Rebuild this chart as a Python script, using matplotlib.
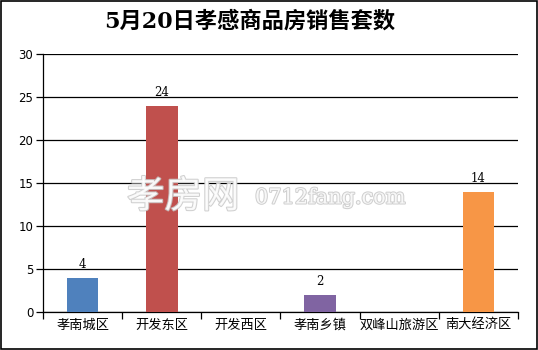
import matplotlib
matplotlib.use("Agg")
import matplotlib.pyplot as plt
import matplotlib.patheffects as pe
from matplotlib.patches import Rectangle

categories = ["孝南城区", "开发东区", "开发西区", "孝南乡镇", "双峰山旅游区", "南大经济区"]
values = [4, 24, 0, 2, 0, 14]
colors = ["#4F81BD", "#C0504D", "#9BBB59", "#8064A2", "#4BACC6", "#F79646"]
title = "5月20日孝感商品房销售套数"
yticks = [0, 5, 10, 15, 20, 25, 30]

plt.rcParams['font.family'] = ['DejaVu Sans', 'Noto Sans CJK SC']

W, H = 538, 350
fig = plt.figure(figsize=(W / 100, H / 100), dpi=100)
fig.patches.append(Rectangle((0.001, 0.002), 0.997, 0.995, transform=fig.transFigure,
                             fill=False, edgecolor="black", linewidth=1.2))

ax = fig.add_axes([43 / W, 1 - 312 / H, (518 - 43) / W, (312 - 54) / H])
x = list(range(len(categories)))
ax.bar(x, values, width=0.4, color=colors, zorder=3)
ax.set_xlim(-0.5, len(categories) - 0.5)
ax.set_ylim(0, 30)
ax.set_yticks(yticks)
ax.set_yticklabels([str(v) for v in yticks], fontsize=8.5)
ax.yaxis.grid(True, color="black", linewidth=0.9)
ax.set_axisbelow(True)
ax.set_xticks([i - 0.5 for i in range(len(categories) + 1)])
ax.set_xticklabels([])
ax.set_xticks(x, minor=True)
ax.set_xticklabels(categories, minor=True, fontsize=9.5,
                   family=['Noto Sans CJK SC', 'DejaVu Sans'])
ax.tick_params(axis='x', which='minor', length=0, pad=5)
ax.tick_params(axis='x', which='major', length=5, direction='out', width=0.9)
ax.tick_params(axis='y', length=5, direction='out', width=0.9, pad=2)
for s in ["top", "right"]:
    ax.spines[s].set_visible(False)
for s in ["left", "bottom"]:
    ax.spines[s].set_linewidth(0.9)

for xi, v in zip(x, values):
    if v > 0:
        ax.text(xi, v + 0.8, str(v), ha="center", va="bottom", fontsize=8.5,
                family=['DejaVu Serif', 'Noto Serif CJK SC'], zorder=4)

fig.text(250 / W, 1 - 22 / H, title, ha="center", va="center", fontsize=16,
         fontweight="bold", family=['DejaVu Serif', 'Noto Sans CJK SC'])

# watermark
fx = [pe.withStroke(linewidth=1.5, foreground="#c8c8c8")]
t1 = fig.text(127 / W, 1 - 197 / H, "孝房网", ha="left", va="center", fontsize=27,
              color="white", family=['Noto Sans CJK SC'], alpha=0.85, zorder=5)
t1.set_path_effects(fx)
t2 = fig.text(255 / W, 1 - 198 / H, "0712fang.com", ha="left", va="center", fontsize=15,
              color="white", family=['DejaVu Serif'], alpha=0.85, zorder=5)
t2.set_path_effects(fx)

fig.savefig("out.png", dpi=100)
